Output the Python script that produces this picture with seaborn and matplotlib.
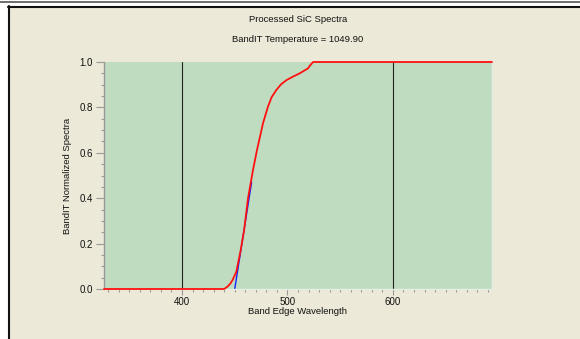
import matplotlib
matplotlib.use("Agg")
import matplotlib.pyplot as plt
import seaborn as sns
from matplotlib.patches import Rectangle
from matplotlib.lines import Line2D
from matplotlib.ticker import MultipleLocator

# ---- data ----
red_x = [326, 440, 443, 446, 448, 451.5, 455.6, 458.9, 462.6, 467.3, 471.1,
         476.8, 481.5, 485.0, 489.5, 494.0, 499, 505, 511.6, 519.5, 521.5, 524.3, 694]
red_y = [0.0, 0.0, 0.01, 0.025, 0.04, 0.076, 0.17, 0.26, 0.40, 0.524, 0.612,
         0.73, 0.803, 0.845, 0.877, 0.902, 0.92, 0.935, 0.95, 0.972, 0.985, 1.0, 1.0]
fit_x = [450, 466]
fit_y = [0.0, 0.47]
grid_x = [400, 600]
x_ticks = [400, 500, 600]
y_ticks = [0.0, 0.2, 0.4, 0.6, 0.8, 1.0]
title1 = "Processed SiC Spectra"
title2 = "BandIT Temperature = 1049.90"
xlabel = "Band Edge Wavelength"
ylabel = "BandIT Normalized Spectra"

sns.set_theme(style="white")
plt.rcParams['font.family'] = ['Liberation Sans', 'DejaVu Sans']

W, H = 580, 339
fig = plt.figure(figsize=(W / 100, H / 100), dpi=100)
fig.patch.set_facecolor("white")

def fx(px):
    return px / W

def fy(py):
    return 1 - py / H

beige = "#ECE9D8"
fig.patches.append(Rectangle((fx(8), 0), fx(W - 8), fy(6), transform=fig.transFigure,
                             facecolor=beige, edgecolor="none", zorder=-10))
fig.lines.append(Line2D([fx(9), fx(9)], [0, fy(6)], transform=fig.transFigure,
                        color="#111111", lw=1.5, zorder=-5))
fig.lines.append(Line2D([fx(8), 1], [fy(7), fy(7)], transform=fig.transFigure,
                        color="#111111", lw=1.5, zorder=-5))
fig.lines.append(Line2D([0, 1], [fy(1.5), fy(1.5)], transform=fig.transFigure,
                        color="#555555", lw=1.2, zorder=-5))

L, R, T, B = 104, 492, 62, 289
ax = fig.add_axes([fx(L), fy(B), fx(R - L), (B - T) / H])
ax.set_zorder(5)
ax.set_facecolor("#C0DCC0")

for gx in grid_x:
    ax.axvline(gx, color="#222222", lw=0.8, zorder=1)

sns.lineplot(x=fit_x, y=fit_y, ax=ax, color="#1020FF", lw=1.0, estimator=None,
             sort=False, zorder=2)
sns.lineplot(x=red_x, y=red_y, ax=ax, color="#FF1010", lw=1.3, estimator=None,
             sort=False, zorder=3, clip_on=False)

ax.set_xlim(326, 694)
ax.set_ylim(0, 1.0)
ax.set_xticks(x_ticks)
ax.set_xticklabels([str(t) for t in x_ticks])
ax.set_yticks(y_ticks)
ax.set_yticklabels([f"{t:.1f}" for t in y_ticks])
ax.xaxis.set_minor_locator(MultipleLocator(10))
ax.yaxis.set_minor_locator(MultipleLocator(0.05))

ax.tick_params(axis="both", which="both", direction="out", colors="#999999",
               labelcolor="#111111", labelsize=7, width=0.8)
ax.tick_params(axis="y", which="major", length=6, pad=2, left=True)
ax.tick_params(axis="y", which="minor", length=2.5, left=True)
ax.tick_params(axis="x", which="major", length=4, pad=1.5, bottom=True)
ax.tick_params(axis="x", which="minor", length=2, bottom=True)

ax.spines["top"].set_visible(False)
ax.spines["left"].set_color("#999999")
ax.spines["left"].set_linewidth(1.0)
ax.spines["right"].set_color("#E6EEE2")
ax.spines["right"].set_linewidth(1.0)
ax.spines["bottom"].set_color("#E6EEE2")
ax.spines["bottom"].set_linewidth(1.0)
ax.set_xlabel("")
ax.set_ylabel("")

cx = (L + R) / 2
fig.text(fx(cx), fy(20), title1, ha="center", va="center", fontsize=6.8, color="#111111")
fig.text(fx(cx), fy(40), title2, ha="center", va="center", fontsize=6.8, color="#111111")
fig.text(fx(cx), fy(311), xlabel, ha="center", va="center", fontsize=6.8, color="#111111")
fig.text(fx(67), fy((T + B) / 2), ylabel, ha="center", va="center", rotation=90,
         fontsize=6.8, color="#111111")

fig.savefig("out.png", dpi=100, facecolor=fig.get_facecolor())
